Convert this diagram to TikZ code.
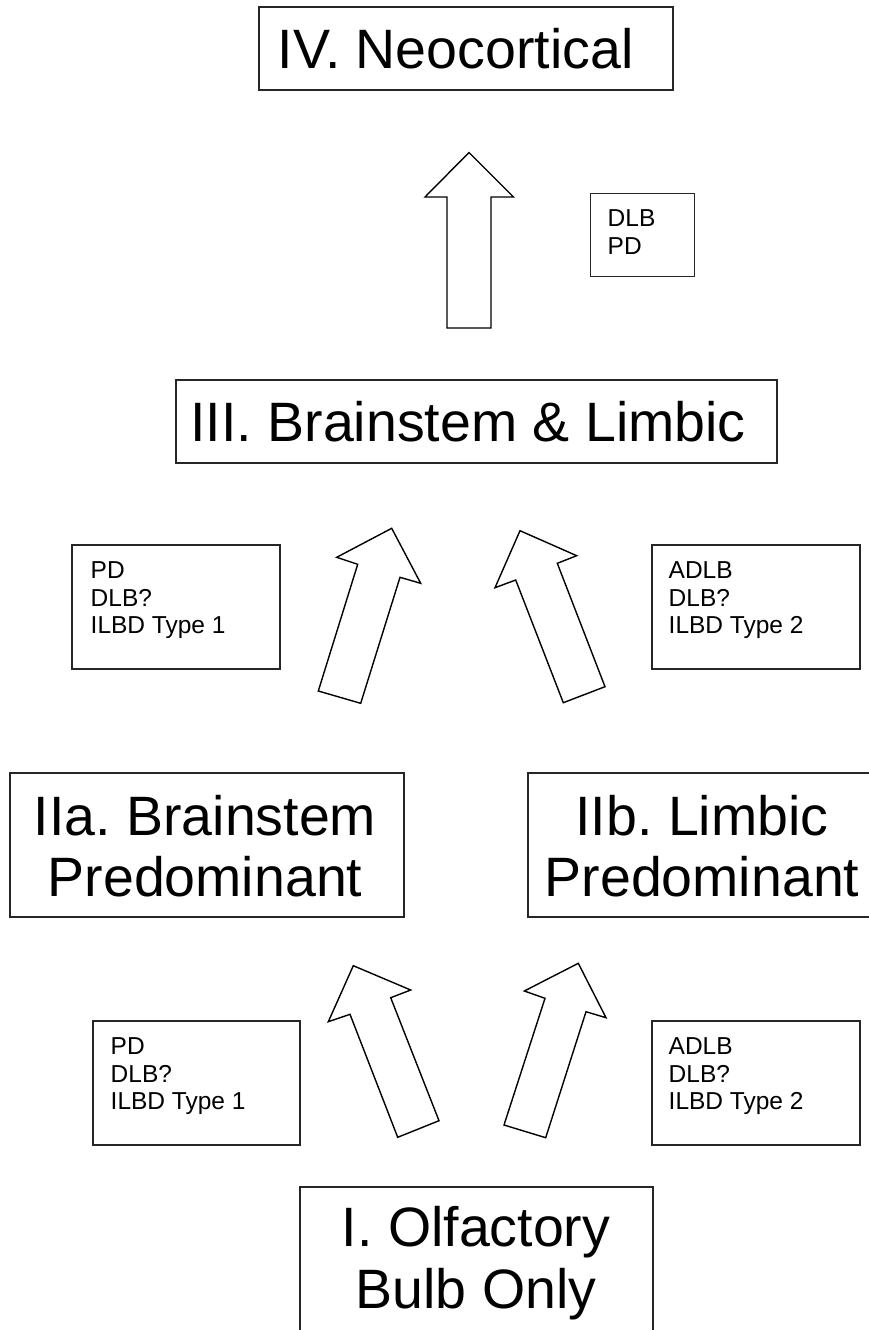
\documentclass[tikz,border=0pt]{standalone}
\usepackage{fontspec}
\setmainfont{Liberation Sans}
\frenchspacing
\begin{document}
\begin{tikzpicture}[x=1pt,y=-1pt,
  stagebox/.style={draw=black!85,line width=1.4pt,inner sep=0pt},
  bigtext/.style={font=\fontsize{55.5}{61.5}\selectfont,inner sep=0pt,align=center},
  smalltext/.style={font=\fontsize{24.5}{27.7}\selectfont,inner sep=0pt,align=left,anchor=north west},
  blockarrow/.style={draw=black,line width=1.4pt,fill=white,line join=miter}]
\clip (0,0) rectangle (869,1330);
% stage boxes
\node[stagebox,minimum width=414pt,minimum height=83pt] (iv) at (466,48.5) {};
\node[bigtext,anchor=base] (ivt) at (455.5,68) {IV. Neocortical};
\node[stagebox,minimum width=601pt,minimum height=83pt] (iii) at (476.5,421.5) {};
\node[bigtext,anchor=base] (iiit) at (468,441) {III. Brainstem \& Limbic};
\node[stagebox,minimum width=394pt,minimum height=144pt] (iia) at (207,845) {};
\node[bigtext,anchor=north] (iiat) at (205,795) {IIa. Brainstem\\Predominant};
\node[stagebox,minimum width=350pt,minimum height=144pt] (iib) at (703,845) {};
\node[bigtext,anchor=north] (iibt) at (702,795) {IIb. Limbic\\Predominant};
\node[stagebox,minimum width=353pt,minimum height=200pt] (i) at (476.5,1287) {};
\node[bigtext,anchor=north] (it) at (476,1206.5) {I. Olfactory\\Bulb Only};
% small boxes
\node[stagebox,minimum width=104pt,minimum height=83pt] (sb0) at (642.5,235) {};
\node[smalltext] (sb0t) at (607.5,209.5) {DLB\\PD};
\node[stagebox,minimum width=208pt,minimum height=124pt] (sb1) at (176,607) {};
\node[smalltext] (sb1t) at (90.5,561.5) {PD\\DLB?\\ILBD Type 1};
\node[stagebox,minimum width=208pt,minimum height=124pt] (sb2) at (756,607) {};
\node[smalltext] (sb2t) at (668.5,561.5) {ADLB\\DLB?\\ILBD Type 2};
\node[stagebox,minimum width=207pt,minimum height=124pt] (sb3) at (196.5,1083) {};
\node[smalltext] (sb3t) at (110.5,1037.5) {PD\\DLB?\\ILBD Type 1};
\node[stagebox,minimum width=208pt,minimum height=124pt] (sb4) at (756,1083) {};
\node[smalltext] (sb4t) at (668.5,1037.5) {ADLB\\DLB?\\ILBD Type 2};
% block arrows
\draw[blockarrow] (469,152.5) -- (513.5,197) -- (491,197) -- (491,328) -- (447,328) -- (447,197) -- (425,197) -- cycle;
\draw[blockarrow] (391.7,528.3) -- (420.7,583.3) -- (400,577.3) -- (360.7,703.3) -- (318.3,691) -- (357.7,564.3) -- (336.7,557.3) -- cycle;
\draw[blockarrow] (520,530.7) -- (576.7,555.7) -- (557.3,563.3) -- (605,686.7) -- (563.3,702.7) -- (515.7,580) -- (495,587.7) -- cycle;
\draw[blockarrow] (353.3,965.7) -- (410.7,990) -- (390.7,997.7) -- (439,1120.7) -- (397.7,1137.3) -- (350,1014.3) -- (328.3,1021.7) -- cycle;
\draw[blockarrow] (578.3,963.3) -- (606,1017.7) -- (586,1011.7) -- (545.7,1137.7) -- (504,1125) -- (545,998.3) -- (524.3,991) -- cycle;
\end{tikzpicture}
\end{document}
